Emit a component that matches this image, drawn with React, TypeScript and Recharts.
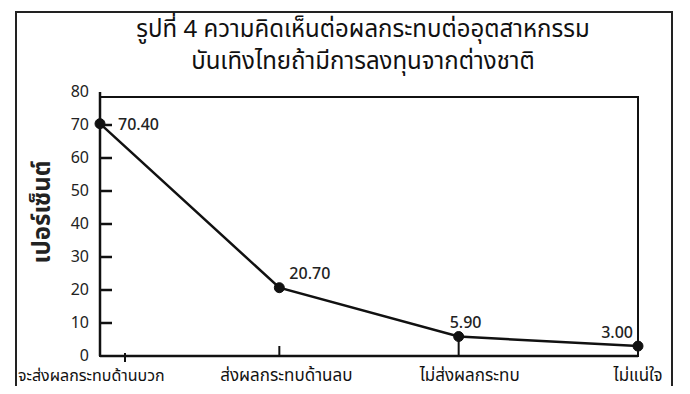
import { LineChart, Line, XAxis, YAxis, ReferenceArea, LabelList } from "recharts";

const categories = ["จะส่งผลกระทบด้านบวก", "ส่งผลกระทบด้านลบ", "ไม่ส่งผลกระทบ", "ไม่แน่ใจ"];
const percentages = [70.4, 20.7, 5.9, 3.0];
const yTicks = [0, 10, 20, 30, 40, 50, 60, 70, 80];
const frameTop = 78.5;

const data = categories.map((name, i) => ({ name, value: percentages[i] }));

const FONT = "'Noto Sans Thai', 'Noto Sans', 'DejaVu Sans', sans-serif";

function YTick(props: any) {
  const { x, y, payload } = props;
  const v = payload.value;
  return (
    <g>
      <text x={x - 11} y={y} dy={5} textAnchor="end" fontSize={16} fill="#222" fontFamily={FONT}>
        {v}
      </text>
      {v > 0 && v < 80 && <line x1={x} x2={x + 12} y1={y} y2={y} stroke="#111" strokeWidth={2.5} />}
    </g>
  );
}

function XTick(props: any) {
  const { x, y, payload, index } = props;
  const first = index === 0;
  const shift = [-82, 7, 11, 0][index];
  return (
    <g>
      {(index === 1 || index === 2) && (
        <line x1={x} x2={x} y1={y} y2={y - (index === 2 ? 17 : 10)} stroke="#111" strokeWidth={2} />
      )}
      {first && <line x1={x + 25} x2={x + 25} y1={y - 3} y2={y + 6} stroke="#111" strokeWidth={2} />}
      <text
        x={x + shift}
        y={y}
        dy={25}
        textAnchor={first ? "start" : "middle"}
        fontSize={first ? 16 : 17}
        fill="#111"
        fontFamily={FONT}
      >
        {payload.value}
      </text>
    </g>
  );
}

function ValueLabel(props: any) {
  const { x, y, value, index } = props;
  const offs = [
    { dx: 18, dy: 6, anchor: "start" },
    { dx: 10, dy: -9, anchor: "start" },
    { dx: -9, dy: -9, anchor: "start" },
    { dx: -5, dy: -8, anchor: "end" },
  ][index];
  return (
    <text x={x + offs.dx} y={y + offs.dy} textAnchor={offs.anchor} fontSize={16} fontWeight={500} fill="#222" fontFamily={FONT}>
      {Number(value).toFixed(2)}
    </text>
  );
}

function YLabel() {
  return (
    <text
      transform="translate(43,212) rotate(-90)"
      textAnchor="middle"
      dominantBaseline="central"
      fontSize={24}
      fontWeight={700}
      fill="#222"
      fontFamily={FONT}
    >
      เปอร์เซ็นต์
    </text>
  );
}

export default function App() {
  return (
    <div style={{ position: "relative", width: 690, height: 394, margin: -8, background: "#fff", overflow: "hidden" }}>
      {/* outer frame */}
      <div
        style={{
          position: "absolute",
          left: 15,
          top: 11,
          width: 654,
          height: 420,
          border: "2px solid #222",
          borderBottom: "none",
        }}
      ></div>

      {/* title */}
      <div
        style={{
          position: "absolute",
          left: 0,
          width: 726,
          top: 14,
          textAlign: "center",
          fontFamily: FONT,
          fontSize: 24,
          lineHeight: "32px",
          color: "#111",
        }}
      >
        <div>รูปที่ 4 ความคิดเห็นต่อผลกระทบต่ออุตสาหกรรม</div>
        <div>บันเทิงไทยถ้ามีการลงทุนจากต่างชาติ</div>
      </div>

      <div style={{ position: "absolute", left: 0, top: 0 }}>
        <LineChart width={690} height={394} data={data} margin={{ top: 92, right: 52, bottom: 8, left: 40 }}>
          <XAxis
            dataKey="name"
            interval={0}
            tickSize={0}
            tickMargin={0}
            tickLine={false}
            height={30}
            axisLine={{ stroke: "#111", strokeWidth: 2.5 }}
            tick={<XTick />}
          />
          <YAxis
            type="number"
            domain={[0, 80]}
            ticks={yTicks}
            width={60}
            tickSize={0}
            tickMargin={0}
            tickLine={false}
            axisLine={{ stroke: "#111", strokeWidth: 2.5 }}
            tick={<YTick />}
            label={{ content: () => <YLabel /> }}
          />
          <ReferenceArea
            x1={categories[0]}
            x2={categories[categories.length - 1]}
            y1={0}
            y2={frameTop}
            fill="none"
            stroke="#111"
            strokeWidth={2}
            fillOpacity={0}
          />
          <Line
            type="linear"
            dataKey="value"
            stroke="#111"
            strokeWidth={2.5}
            dot={{ r: 5, fill: "#111", stroke: "#111", strokeWidth: 1 }}
            isAnimationActive={false}
          >
            <LabelList dataKey="value" content={<ValueLabel />} />
          </Line>
        </LineChart>
      </div>
    </div>
  );
}
